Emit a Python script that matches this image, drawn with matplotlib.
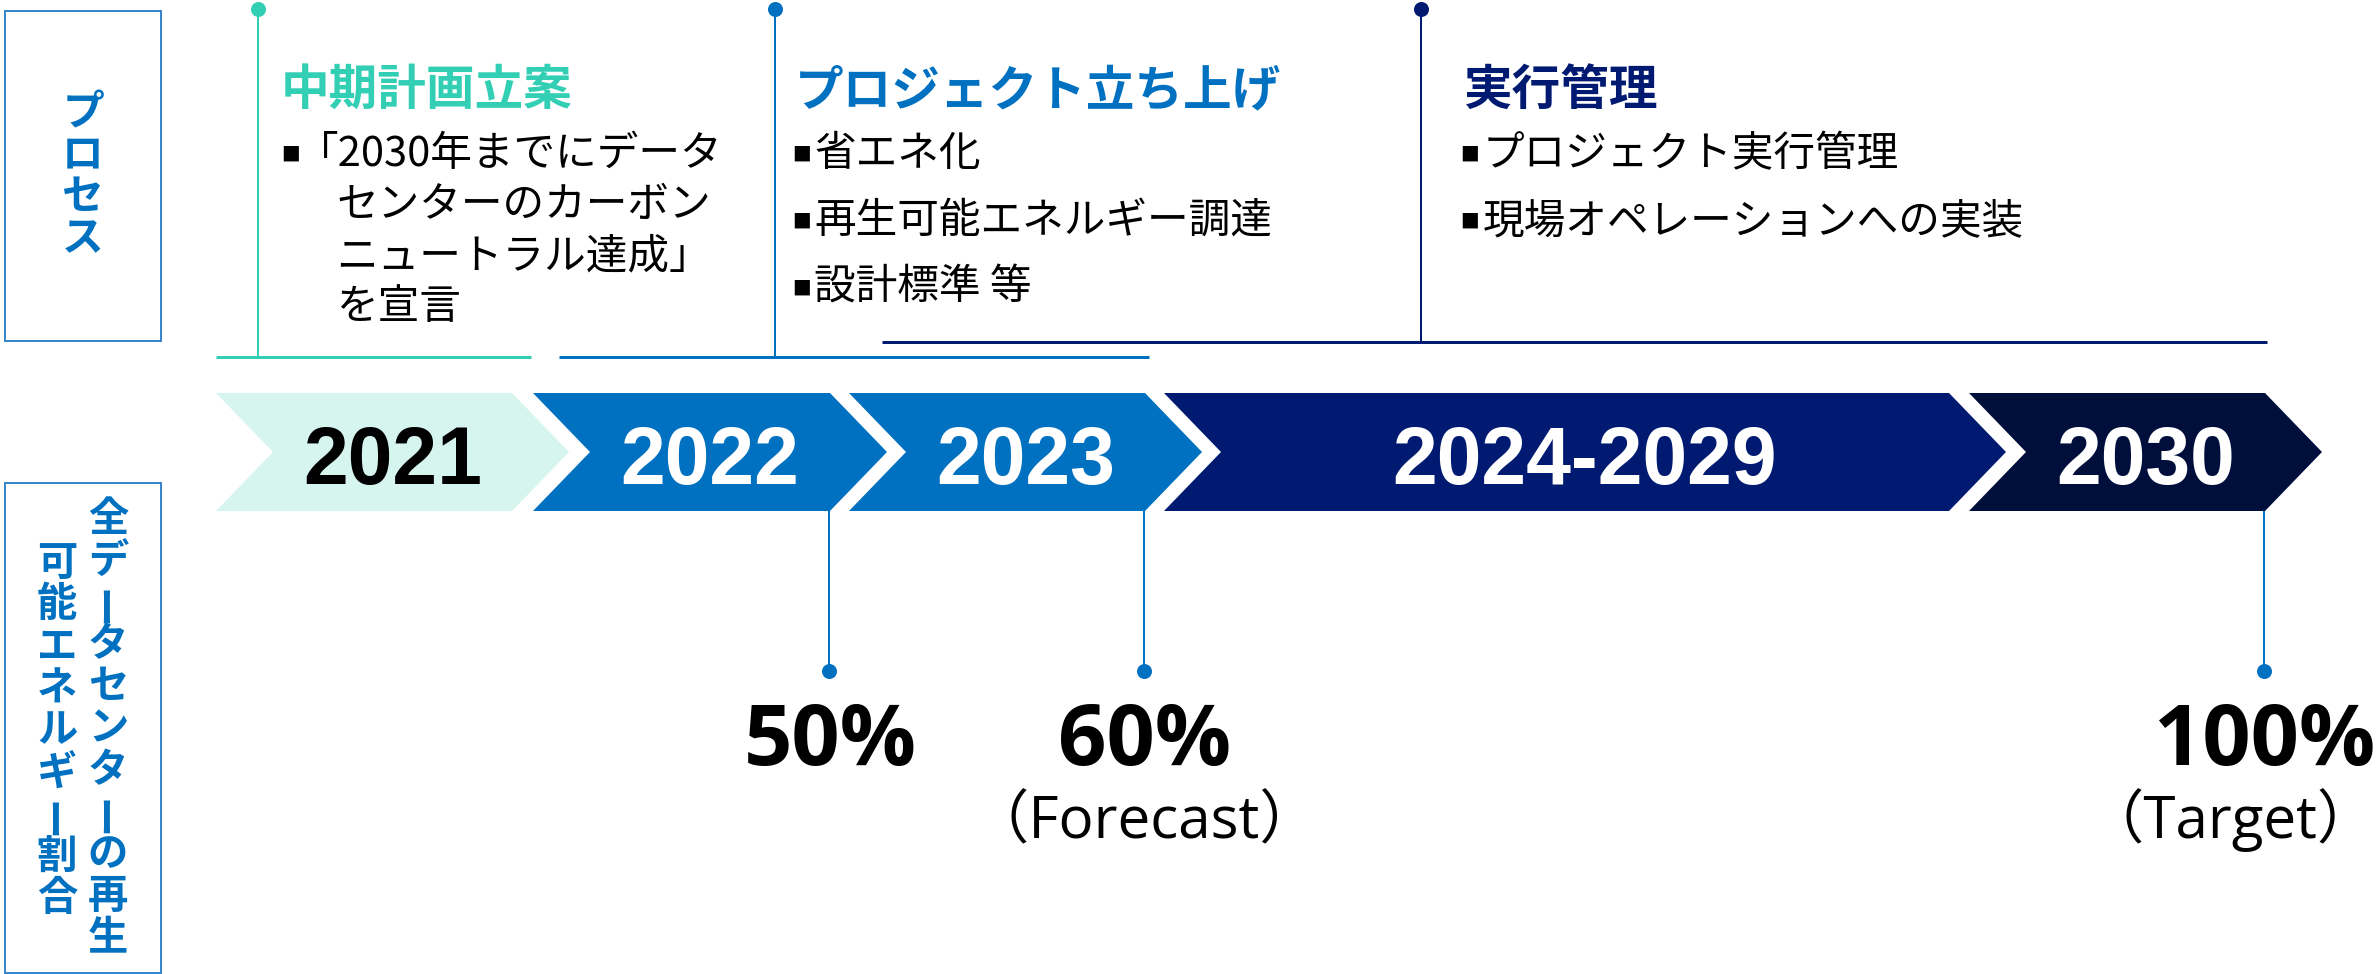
import matplotlib
matplotlib.use('Agg')
import matplotlib.pyplot as plt
from matplotlib.patches import Polygon, Rectangle
from matplotlib import font_manager as fm

# ---------------- data ----------------
years = ['2021', '2022', '2023', '2024-2029', '2030']
process_titles = ['中期計画立案', 'プロジェクト立ち上げ', '実行管理']
process_items = [
    [['「2030年までにデータ', 'センターのカーボン', 'ニュートラル達成」', 'を宣言']],
    [['省エネ化'], ['再生可能エネルギー調達'], ['設計標準 等']],
    [['プロジェクト実行管理'], ['現場オペレーションへの実装']],
]
share_labels = ['50%', '60%', '100%']
share_notes = ['', '（Forecast）', '（Target）']
share_years = ['2022', '2023', '2030']
row_label_process = 'プロセス'
row_label_share = ['全データセンターの再生', '可能エネルギー割合']

# ---------------- layout / style ----------------
W, H, DPI = 2379, 974, 100
PT = 72 / DPI  # points per pixel

chev_left = [216, 533, 849, 1164, 1969]
chev_right = [512, 830, 1145, 1949, 2265]
chev_top, chev_bot, chev_depth = 393, 511, 57
chev_colors = ['#D5F5EE', '#0070C0', '#0070C0', '#001A72', '#000E3C']
year_colors = ['black', 'white', 'white', 'white', 'white']

TEAL, BLUE, NAVY = '#33CFB5', '#0070C0', '#001A72'
proc_colors = [TEAL, BLUE, NAVY]
proc_x = [258, 775, 1421]
proc_base_y = [357, 357, 342]
proc_rule = [(216, 531), (559, 1149), (882, 2267)]
title_x = [281, 795, 1464]
bullet_x = [291, 802, 1470]
text_x = [[297, 336], [814, 814], [1483, 1483]]
first_base = 166
line_gap = [51, 66, 66]
item_gap = [51, 67, 67]

entries = fm.fontManager.ttflist
names = {f.name for f in entries}

def pick(*c):
    for n in c:
        if n in names:
            return n
    return 'DejaVu Sans'

def pick_bold(*c):
    for n in c:
        for f in entries:
            w = f.weight if isinstance(f.weight, int) else (700 if 'bold' in str(f.weight).lower() else 400)
            if f.name == n and w >= 700:
                return n
    return 'DejaVu Sans'

JP = pick('Noto Sans CJK JP', 'Noto Sans CJK SC')
YEARF = pick_bold('Liberation Sans Narrow', 'Liberation Sans', 'Roboto', 'DejaVu Sans')
LATB = pick_bold('Open Sans', 'Noto Sans', 'Lato', 'Roboto', 'Liberation Sans')
LAT = pick('Open Sans', 'Noto Sans', 'DejaVu Sans')

fig = plt.figure(figsize=(W / DPI, H / DPI), dpi=DPI)
ax = fig.add_axes([0, 0, 1, 1])
ax.set_xlim(0, W)
ax.set_ylim(H, 0)
ax.axis('off')

# ---- left row-label boxes ----
ax.add_patch(Rectangle((5, 11), 156, 330, fill=False, ec='#3A86CC', lw=2 * PT))
ax.add_patch(Rectangle((5, 483), 156, 490, fill=False, ec='#3A86CC', lw=2 * PT))

def vertical(text, x, yc, step, size):
    n = len(text)
    y0 = yc - step * (n - 1) / 2
    for i, ch in enumerate(text):
        rot = 90 if ch == 'ー' else 0
        ax.text(x, y0 + i * step, ch, ha='center', va='center', rotation=rot,
                fontsize=size, fontweight='bold', color=BLUE, family=JP)

vertical(row_label_process, 83, 176, 42, 30)
vertical(row_label_share[0], 108, 729, 42, 29)
vertical(row_label_share[1], 57, 731, 42, 29)

# ---- chevrons ----
ymid = (chev_top + chev_bot) / 2
corner = {}
for i, yr in enumerate(years):
    L, R, d = chev_left[i], chev_right[i], chev_depth
    pts = [(L, chev_top), (R, chev_top), (R + d, ymid), (R, chev_bot),
           (L, chev_bot), (L + d, ymid)]
    ax.add_patch(Polygon(pts, closed=True, fc=chev_colors[i], ec='none'))
    ax.text((L + R + d) / 2, 484, yr, ha='center', va='baseline',
            fontsize=58, fontweight='bold', color=year_colors[i], family=YEARF)
    corner[yr] = R

# ---- process markers ----
for k in range(3):
    c = proc_colors[k]
    x = proc_x[k]
    ax.plot([x, x], [9, proc_base_y[k]], color=c, lw=2 * PT, solid_capstyle='butt')
    ax.plot([x], [9], 'o', color=c, ms=15 * PT, mec='none')
    a, b = proc_rule[k]
    ax.plot([a, b], [proc_base_y[k]] * 2, color=c, lw=3 * PT, solid_capstyle='butt')
    ax.text(title_x[k], 105, process_titles[k], ha='left', va='baseline',
            fontsize=35, fontweight='bold', color=c, family=JP)
    y = first_base
    for item in process_items[k]:
        ax.text(bullet_x[k], y - 13, '▪', ha='center', va='center', fontsize=22,
                color='black', family=['DejaVu Sans'])
        for j, line in enumerate(item):
            tx = text_x[k][0] if j == 0 else text_x[k][1]
            ax.text(tx, y, line, ha='left', va='baseline', fontsize=30,
                    color='black', family=JP)
            if j < len(item) - 1:
                y += line_gap[k]
        y += item_gap[k]

# ---- renewable share markers ----
renderer = fig.canvas.get_renderer()
for lab, note, yr in zip(share_labels, share_notes, share_years):
    x = corner[yr] - 1
    ax.plot([x, x], [chev_bot, 671], color=BLUE, lw=2 * PT, solid_capstyle='butt')
    ax.plot([x], [671], 'o', color=BLUE, ms=15 * PT, mec='none')
    ax.text(x + 1, 765, lab, ha='center', va='baseline', fontsize=61,
            fontweight='bold', color='black', family=[LATB, JP])
    if note:
        t = ax.text(x, 838, note, ha='center', va='baseline', fontsize=42,
                    color='black', family=[LAT, JP])
        bb = t.get_window_extent(renderer)
        over = bb.x1 - (W - 3)
        if over > 0:  # keep the full-width bracket box inside the canvas
            t.set_x(x - over)

fig.savefig('out.png', dpi=DPI)
